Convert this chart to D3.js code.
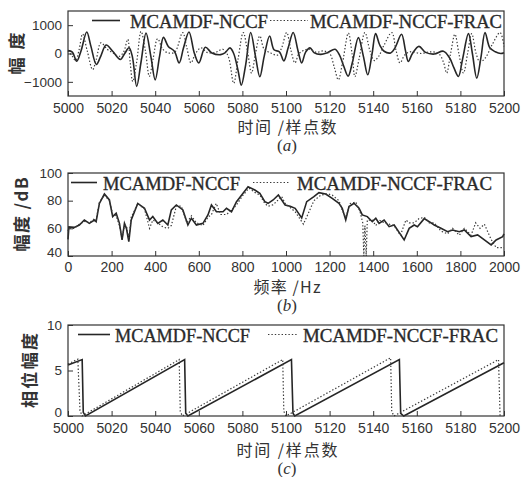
<!DOCTYPE html>
<html>
<head>
<meta charset="utf-8">
<script src="https://cdn.jsdelivr.net/npm/d3@7"></script>
<style>
  body { margin: 0; background: #fff; }
  .frame { fill: none; stroke: #333; stroke-width: 1.2; }
  .domain { display: none; }
  .tick line { stroke: #333; }
  .tick text { font-family: "Liberation Sans", Arial, sans-serif; fill: #333; }
  .solid { fill: none; stroke: #262626; stroke-width: 1.6; }
  .dotted { fill: none; stroke: #3a3a3a; stroke-width: 1.2; stroke-dasharray: 1.4 2; }
  .legend { font-family: "Liberation Serif", "Times New Roman", serif; font-size: 19px; fill: #2a2a2a; stroke: #2a2a2a; stroke-width: 0.35; }
  .ytitle { font-family: "Noto Sans CJK SC", sans-serif; font-weight: bold; font-size: 17px; fill: #333; }
  .xtitle { font-family: "Noto Sans CJK SC", sans-serif; font-size: 16px; fill: #333; }
  .caption { font-family: "Liberation Serif", serif; font-size: 17px; fill: #333; }
</style>
</head>
<body>
<div id="chart"></div>
<script>
// Tick labels
const sampleTicks = [5000, 5020, 5040, 5060, 5080, 5100, 5120, 5140, 5160, 5180, 5200];
const freqTicks = [0, 200, 400, 600, 800, 1000, 1200, 1400, 1600, 1800, 2000];
const ampTicks = [-1000, 0, 1000];
const dbTicks = [40, 60, 80, 100];
const phaseTicks = [0, 5, 10];
const seriesNames = ["MCAMDF-NCCF", "MCAMDF-NCCF-FRAC"];

// (a) time signal, [sample, amplitude]
const waveNCCF = [
  [5000, 100], [5002, 50], [5004, -270], [5006, 100], [5008.6, 760], [5010.5, 260], [5013, -390],
  [5015, -100], [5017.5, 300], [5020.5, 80], [5024, -210], [5026, 0], [5028, 200], [5029.5, -100],
  [5031.5, -1160], [5033.5, -300], [5035.8, 720], [5038, -100], [5040, -930], [5042, -100],
  [5043.8, 570], [5046, 250], [5048.8, 80], [5051, -330], [5053, 200], [5055.5, 760], [5058, 0],
  [5060, -330], [5063, 220], [5066, 20], [5070, -40], [5072, 20], [5074.3, 200], [5076, 0],
  [5078, -600], [5079.5, -1120], [5081.5, -400], [5083.8, 740], [5086, -100], [5088, -820],
  [5090, -100], [5092.5, 620], [5094.5, 130], [5097, 60], [5099, -260], [5101, 200], [5103.3, 740],
  [5105.5, 100], [5107.2, -330], [5109, 50], [5111, 200], [5113, 20], [5116, -30], [5119, 30],
  [5122.5, 150], [5124.5, -50], [5126.5, -450], [5128.5, -800], [5130.5, -300], [5133.2, 560],
  [5135.5, -100], [5137.5, -750], [5139.5, 0], [5141.1, 700], [5143, 300], [5145, 80], [5148, 20],
  [5150, 200], [5153, 680], [5154.8, 100], [5156.1, -280], [5158, 0], [5161, 250], [5164, 40],
  [5168, -20], [5172.2, 80], [5175, -150], [5177, -500], [5179.1, -810], [5181, -200],
  [5183.7, 700], [5185.5, 0], [5187.5, -870], [5189.5, -100], [5191.3, 740], [5193.5, 200],
  [5196, 60], [5198.5, 0], [5200, 30]
];
const waveFRAC = [
  [5000, 100], [5002, -100], [5003.5, -250], [5005, 100], [5006.7, 690], [5008.8, 100],
  [5011.3, -570], [5013, -200], [5015.1, 380], [5018, 150], [5021, 0], [5023.5, -100],
  [5025.5, 50], [5027.4, 500], [5028.5, -300], [5029.7, -990], [5031.5, -300], [5033.5, 780],
  [5035.5, 100], [5037.3, -810], [5039, -200], [5041.1, 520], [5043.5, 150], [5046, 20],
  [5049, 50], [5052.6, 740], [5054.5, 200], [5056.4, -330], [5058.5, 0], [5061, 200], [5064, 30],
  [5068, 50], [5071, 150], [5073.5, -100], [5076, -1050], [5078, -200], [5080.4, 740],
  [5082.5, 0], [5084.2, -690], [5086, 0], [5088, 620], [5090, 150], [5093, 20], [5096, -60],
  [5098, 200], [5100.3, 740], [5102.3, 100], [5104.1, -330], [5106, 0], [5108.5, 120],
  [5111, 150], [5114, 40], [5117, 90], [5120, 0], [5122.2, -500], [5124, -930], [5126, -300],
  [5128.6, 720], [5130.3, 0], [5131.6, -820], [5133.5, -200], [5136.2, 740], [5138.5, 100],
  [5140.5, -250], [5142.5, -100], [5145, 300], [5148.5, 740], [5150.5, 100], [5152.3, -330],
  [5154.5, -50], [5157, 60], [5162, 0], [5166, 60], [5170, 0], [5172.2, -300], [5173.7, -690],
  [5175.5, 0], [5177.5, 680], [5179.3, 0], [5181.4, -690], [5183.3, 0], [5185.2, 700],
  [5187.2, 0], [5189, -300], [5191.5, -150], [5194.5, 300], [5198.2, 740], [5200, 250]
];

// (b) spectrum, [Hz, dB]
const spectrumNCCF = [
  [0, 52], [4, 61], [29, 60.7], [52, 62.4], [75, 66], [98, 63.6], [121, 66], [129, 64.8],
  [144, 78], [167, 84.8], [190, 80.5], [205, 68.5], [221, 70.9], [236, 63.6], [248, 51.6],
  [259, 63.6], [268, 60], [279, 50.4], [290, 66], [320, 78], [351, 74.5], [374, 66], [389, 68.5],
  [412, 63.6], [435, 66], [458, 62.4], [474, 73.3], [497, 76.9], [527, 73.3], [550, 62.4],
  [566, 67.3], [589, 62.4], [619, 63.6], [642, 69.7], [658, 76.9], [681, 72], [711, 72],
  [727, 74.5], [750, 72], [773, 79.3], [803, 85.3], [826, 90.1], [857, 87.7], [880, 85.3],
  [903, 79.3], [918, 78.1], [941, 80.5], [965, 84.1], [996, 76.9], [1019, 76], [1042, 74.5],
  [1072, 67.5], [1095, 79.3], [1128, 82.9], [1151, 85.8], [1182, 84.8], [1212, 81.7],
  [1243, 78.1], [1258, 74.5], [1274, 66], [1289, 75.7], [1312, 78.1], [1335, 74.5],
  [1350, 69.7], [1373, 68.5], [1396, 64.8], [1412, 67.3], [1427, 63.6], [1450, 66],
  [1473, 61.2], [1496, 62.4], [1542, 51.6], [1565, 60], [1588, 62.4], [1603, 61.2], [1634, 67],
  [1657, 64.8], [1680, 62.4], [1711, 60], [1741, 57.6], [1764, 58.8], [1795, 57.6], [1818, 58.8],
  [1849, 54], [1879, 55.2], [1910, 51.6], [1941, 48], [1964, 51.6], [1994, 54], [2000, 56]
];
const spectrumFRAC = [
  [0, 58], [4, 60], [29, 60], [52, 63], [75, 65], [98, 64], [121, 67], [129, 66], [144, 79],
  [167, 84], [190, 80], [205, 70], [221, 69], [236, 62], [248, 53], [259, 62], [268, 62],
  [279, 52], [290, 68], [320, 78], [351, 74], [374, 60], [389, 66], [412, 64], [435, 61],
  [458, 60], [474, 62], [497, 76], [520, 76], [545, 64], [566, 69], [589, 64], [619, 62],
  [642, 68], [658, 70], [680, 78], [700, 70], [727, 70], [750, 73], [773, 77], [803, 84],
  [830, 89], [857, 86], [880, 84], [903, 78], [918, 76], [941, 77], [980, 83], [996, 78],
  [1019, 75], [1042, 72], [1080, 63], [1100, 70], [1128, 80], [1160, 84], [1190, 85],
  [1212, 84], [1243, 80], [1258, 73], [1274, 68], [1295, 78], [1320, 79], [1340, 72],
  [1352, 64], [1357, 40], [1362, 62], [1368, 40], [1373, 66], [1396, 66], [1412, 62],
  [1427, 66], [1450, 64], [1473, 63], [1496, 62], [1525, 55], [1550, 66], [1565, 64],
  [1588, 64], [1610, 67], [1634, 68], [1657, 64], [1680, 64], [1711, 58], [1741, 56],
  [1764, 60], [1795, 55], [1818, 60], [1849, 55], [1870, 64], [1890, 60], [1910, 63],
  [1941, 52], [1964, 46], [1994, 46], [2000, 46]
];

// (c) phase, [sample, rad]
const phaseNCCF = [
  [5000, 5.6], [5006.5, 6.2], [5007, 0.4], [5008, 0], [5053.5, 6.2], [5054, 0.3], [5055, 0],
  [5102.5, 6.2], [5103.2, 0.3], [5104, 0], [5152, 6.2], [5152.6, 0.3], [5154, 0], [5200, 5.85]
];
const phaseFRAC = [
  [5000, 5.7], [5004.5, 6.25], [5005.5, 0.6], [5006.5, 0], [5051, 6.2], [5051.5, 0.5],
  [5052.5, 0], [5098.5, 6.2], [5099, 0.5], [5100, 0], [5148, 6.4], [5148.5, 0.5], [5149.5, 0],
  [5197.5, 6.2], [5198.2, 0]
];

// Layout of the three panels
const left = 68, right = 504;
const panels = [
  { top: 11, bottom: 96, xDomain: [5000, 5200], yDomain: [-1500, 1500], xTicks: sampleTicks, yTicks: ampTicks,
    solid: waveNCCF, dotted: waveFRAC, curve: d3.curveCatmullRom,
    yTitle: "幅度", yTitleX: 17, yTitleLen: 42, xTitle: "时间 /样点数", xTitleLen: 99, tickPad: 7, titleGap: 37,
    caption: "a", captionY: 151,
    legend: { s: [92, 120, 130, 138], d: [270, 308, 310, 192] } },
  { top: 173, bottom: 256, xDomain: [0, 2000], yDomain: [40, 100], xTicks: freqTicks, yTicks: dbTicks,
    solid: spectrumNCCF, dotted: spectrumFRAC, curve: d3.curveLinear,
    yTitle: "幅度 /dB", yTitleX: 22, yTitleLen: 74, xTitle: "频率 /Hz", xTitleLen: 67, tickPad: 6, titleGap: 37,
    caption: "b", captionY: 311,
    legend: { s: [71, 97, 103, 137], d: [253, 290, 297, 195] } },
  { top: 325, bottom: 416, xDomain: [5000, 5200], yDomain: [0, 10], xTicks: sampleTicks, yTicks: phaseTicks,
    solid: phaseNCCF, dotted: phaseFRAC, curve: d3.curveLinear,
    yTitle: "相位幅度", yTitleX: 30, yTitleLen: 75, xTitle: "时间 /样点数", xTitleLen: 101, tickPad: 7, titleGap: 40,
    caption: "c", captionY: 474,
    legend: { s: [78, 110, 115, 135], d: [268, 298, 303, 195] } }
];

const svg = d3.select("#chart")
  .append("svg")
  .attr("width", 522)
  .attr("height", 477);

function drawPanel(p) {
  const x = d3.scaleLinear().domain(p.xDomain).range([left, right]);
  const y = d3.scaleLinear().domain(p.yDomain).range([p.bottom, p.top]);
  const g = svg.append("g");

  // Ticks point inward, matlab style
  g.append("g")
    .attr("transform", `translate(0,${p.bottom})`)
    .call(d3.axisBottom(x).tickValues(p.xTicks).tickFormat(d3.format("d"))
      .tickSizeInner(-5).tickSizeOuter(0).tickPadding(p.tickPad))
    .selectAll("text").style("font-size", "14px");

  const yAxis = g.append("g")
    .attr("transform", `translate(${left},0)`)
    .call(d3.axisLeft(y).tickValues(p.yTicks).tickFormat(d3.format("d"))
      .tickSizeInner(-5).tickSizeOuter(0).tickPadding(6));
  yAxis.selectAll("text").style("font-size", "13.5px");
  // lowest label sits a little higher, as in the original
  yAxis.selectAll("text").filter(d => d === p.yDomain[0]).attr("dy", "0.05em");

  const line = d3.line().x(d => x(d[0])).y(d => y(d[1])).curve(p.curve);

  g.append("path").datum(p.solid).attr("class", "solid").attr("d", line);
  g.append("path").datum(p.dotted).attr("class", "dotted").attr("d", line);

  // Box
  g.append("rect")
    .attr("class", "frame")
    .attr("x", left).attr("y", p.top)
    .attr("width", right - left).attr("height", p.bottom - p.top);

  // Legend
  const ly = p.top + 9.5;
  [["s", "solid"], ["d", "dotted"]].forEach(([k, cls], i) => {
    const L = p.legend[k];
    g.append("line").attr("class", cls)
      .attr("x1", L[0]).attr("x2", L[1]).attr("y1", ly).attr("y2", ly);
    g.append("text").attr("class", "legend")
      .attr("x", L[2]).attr("y", p.top + 17)
      .attr("textLength", L[3]).attr("lengthAdjust", "spacingAndGlyphs")
      .text(seriesNames[i]);
  });

  // Axis titles
  const cy = (p.top + p.bottom) / 2;
  g.append("text").attr("class", "ytitle")
    .attr("transform", `translate(${p.yTitleX},${cy}) rotate(-90)`)
    .attr("text-anchor", "middle").attr("dy", "0.35em")
    .attr("textLength", p.yTitleLen)
    .text(p.yTitle);

  g.append("text").attr("class", "xtitle")
    .attr("x", 287).attr("y", p.bottom + p.titleGap)
    .attr("text-anchor", "middle")
    .attr("textLength", p.xTitleLen)
    .text(p.xTitle);

  const cap = g.append("text").attr("class", "caption")
    .attr("x", 287).attr("y", p.captionY).attr("text-anchor", "middle");
  cap.append("tspan").text("(");
  cap.append("tspan").style("font-style", "italic").text(p.caption);
  cap.append("tspan").text(")");
}

panels.forEach(drawPanel);
</script>
</body>
</html>
